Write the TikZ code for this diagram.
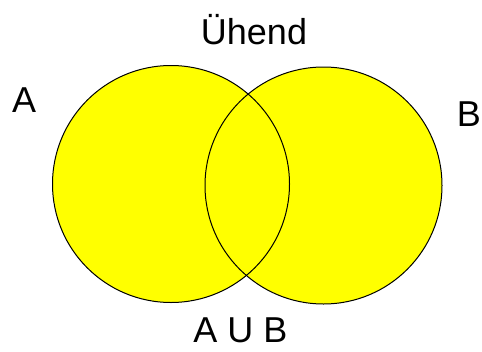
\documentclass[tikz,border=0pt]{standalone}
\usepackage{fontspec}
\setmainfont{Liberation Sans}
\usetikzlibrary{positioning}
\definecolor{VennYellow}{HTML}{FFFF00}
\definecolor{VennInk}{HTML}{000000}
\tikzset{
  every node/.style={font=\fontsize{36}{40}\selectfont, text=VennInk, inner sep=0pt},
  setring/.style={circle, draw=VennInk, line width=1pt, minimum size=237pt},
  setfill/.style={fill=VennYellow},
}
\begin{document}
\begin{tikzpicture}[x=1pt,y=-1pt]
  \useasboundingbox (0,0) rectangle (482,351);
  % yellow discs first, so both outlines stay visible in the overlap
  \fill[setfill] (171,184) circle (118.5pt) (323.5,185.5) circle (118.5pt);
  \node[setring] (setA) at (171,184) {};
  \node[setring] (setB) at (323.5,185.5) {};
  % labels
  \node[anchor=base] (union) at (254,44) {Ühend};
  \node[anchor=base west] (labelA) at (12,112) {A};
  \node[anchor=base east] (labelB) at (481,126) {B};
  \node[anchor=base] (caption) at (240.5,342) {A U B};
\end{tikzpicture}
\end{document}
